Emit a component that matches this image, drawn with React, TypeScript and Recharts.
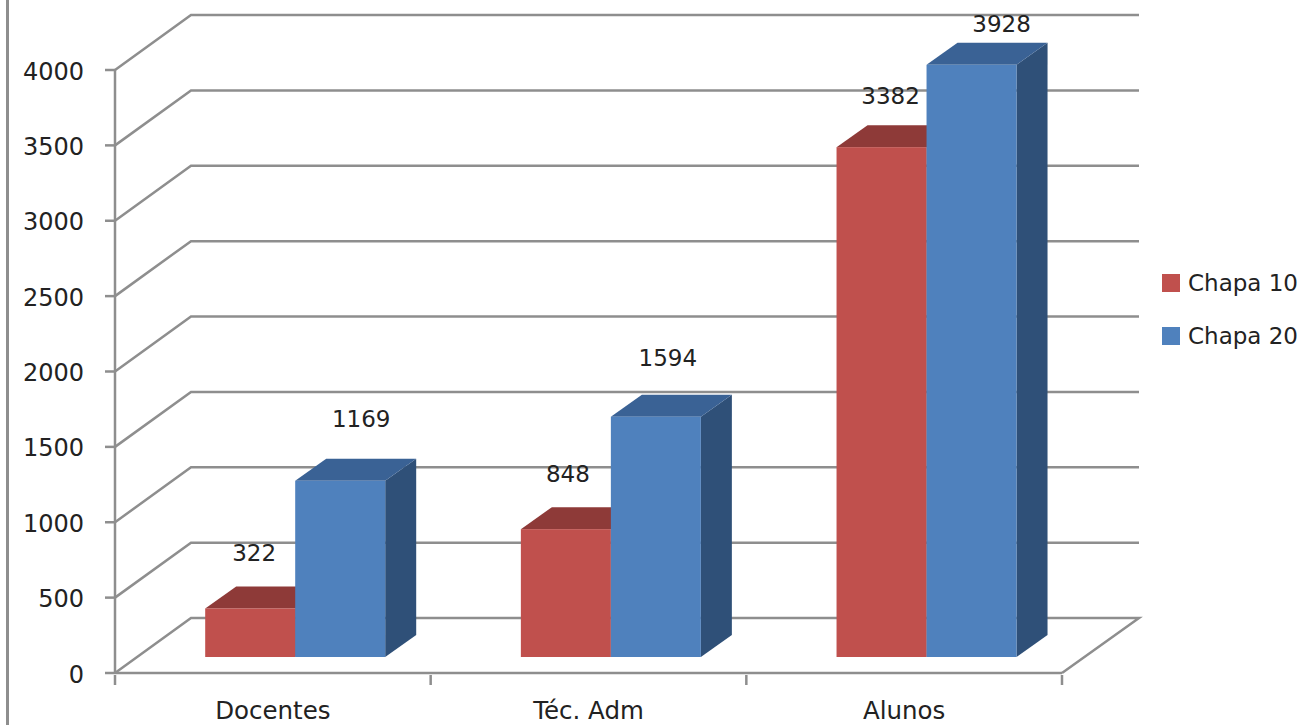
import { BarChart, Bar, XAxis, YAxis, CartesianGrid, Legend, LabelList } from 'recharts'

const categories = ['Docentes', 'Téc. Adm', 'Alunos']
const chapa10 = [322, 848, 3382]
const chapa20 = [1169, 1594, 3928]
const yTicks = [0, 500, 1000, 1500, 2000, 2500, 3000, 3500, 4000]

const chartData = categories.map((name, i) => ({ name, 'Chapa 10': chapa10[i], 'Chapa 20': chapa20[i] }))

const W = 1316
const H = 725
const margin = { top: 70, right: 254, bottom: 0, left: 0 }
const FONT = '"DejaVu Sans", sans-serif'
const TEXT = '#222'
const AXIS = '#8e8e8e'

// fake 3D: depth of the walls and of the bars
const WALL_DX = 76
const WALL_DY = -55
const BAR_DX = 31
const BAR_DY = -22
// bars stand forward on the floor, not on the axis line
const BAR_SHIFT_X = 22.7
const BAR_SHIFT_Y = -16

// hand placed data labels, same order as the categories
const nudge10 = [[4, -55], [2, -55], [9, -51]]
const nudge20 = [[21, -62], [12, -59], [30, -41]]

const Bar3D = ({ x, y, width, height, fill, top, side }: any) => {
  const l = x + BAR_SHIFT_X
  const t = y + BAR_SHIFT_Y
  const r = l + width
  const b = t + height
  return (
    <g>
      <polygon points={`${r},${t} ${r + BAR_DX},${t + BAR_DY} ${r + BAR_DX},${b + BAR_DY} ${r},${b}`} fill={side} />
      <polygon points={`${l},${t} ${l + BAR_DX},${t + BAR_DY} ${r + BAR_DX},${t + BAR_DY} ${r},${t}`} fill={top} />
      <rect x={l} y={t} width={width} height={height} fill={fill} />
    </g>
  )
}

// walls: every gridline runs back along the side wall and then across the back wall
const WallLine = ({ x1, y1, x2, y2, y, height }: any) => {
  const isFloor = Math.abs(y1 - (y + height)) < 1
  const pts = [[x1, y1], [x1 + WALL_DX, y1 + WALL_DY], [x2 + WALL_DX + 1, y2 + WALL_DY]]
  if (isFloor) pts.push([x2, y2])
  return (
    <polyline
      key={`wall-${y1}`}
      points={pts.map(p => p.join(',')).join(' ')}
      fill="none"
      stroke={AXIS}
      strokeWidth={2.5}
    />
  )
}

const CategoryTick = ({ x, y, payload }: any) => {
  const band = (W - margin.left - margin.right - 115) / categories.length
  return (
    <g>
      <line x1={x - band / 2} y1={y} x2={x - band / 2} y2={y + 10} stroke={AXIS} strokeWidth={2.5} />
      {payload.index === categories.length - 1 && (
        <line x1={x + band / 2} y1={y} x2={x + band / 2} y2={y + 10} stroke={AXIS} strokeWidth={2.5} />
      )}
      <text x={x} y={y + 44} textAnchor="middle" fontFamily={FONT} fontSize={24.5} fill={TEXT}>{payload.value}</text>
    </g>
  )
}

const makeLabel = (nudges: number[][]) => ({ x, y, width, value, index }: any) => {
  const [dx, dy] = nudges[index]
  return (
    <text x={x + BAR_SHIFT_X + width / 2 + dx} y={y + BAR_SHIFT_Y + dy + 8} textAnchor="middle" fontFamily={FONT} fontSize={23} fill={TEXT}>
      {value}
    </text>
  )
}

const LegendBox = ({ payload }: any) => (
  <div style={{ fontFamily: FONT, fontSize: 23, color: TEXT }}>
    {payload.map((p: any) => (
      <div key={p.value} style={{ display: 'flex', alignItems: 'center', height: 53 }}>
        <span style={{ width: 18, height: 18, background: p.color, display: 'inline-block', marginRight: 8 }} />
        {p.value}
      </div>
    ))}
  </div>
)

export default function App() {
  return (
    <div style={{ position: 'absolute', left: 0, top: 0, width: W, height: H, background: '#fff', overflow: 'hidden' }}>
      <div style={{ position: 'absolute', left: 6, top: 0, width: 2.5, height: H, background: AXIS }} />
      <BarChart width={W} height={H} data={chartData} margin={margin} barCategoryGap={67.5} barGap={0}>
        <CartesianGrid vertical={false} horizontal={(p: any) => <WallLine {...p} />} />
        <XAxis
          dataKey="name"
          height={52}
          interval={0}
          axisLine={{ stroke: AXIS, strokeWidth: 2.5 }}
          tickLine={false}
          tick={<CategoryTick />}
          tickSize={0}
        />
        <YAxis
          width={115}
          domain={[0, 4000]}
          ticks={yTicks}
          interval={0}
          axisLine={{ stroke: AXIS, strokeWidth: 2.5 }}
          tickLine={{ stroke: AXIS, strokeWidth: 2.5 }}
          tickSize={10}
          tickMargin={21}
          tick={{ fill: TEXT, fontSize: 24, fontFamily: FONT, dy: 1 }}
        />
        <Legend
          layout="vertical"
          align="center"
          verticalAlign="middle"
          wrapperStyle={{ left: 1162, top: 256, width: 154, right: 'auto', bottom: 'auto' }}
          content={<LegendBox />}
        />
        <Bar dataKey="Chapa 10" fill="#C0504D" isAnimationActive={false} shape={(p: any) => <Bar3D {...p} top="#8E3A38" side="#8E3A38" />}>
          <LabelList dataKey="Chapa 10" content={makeLabel(nudge10)} />
        </Bar>
        <Bar dataKey="Chapa 20" fill="#4F81BD" isAnimationActive={false} shape={(p: any) => <Bar3D {...p} top="#3A6295" side="#2F5078" />}>
          <LabelList dataKey="Chapa 20" content={makeLabel(nudge20)} />
        </Bar>
      </BarChart>
    </div>
  )
}
